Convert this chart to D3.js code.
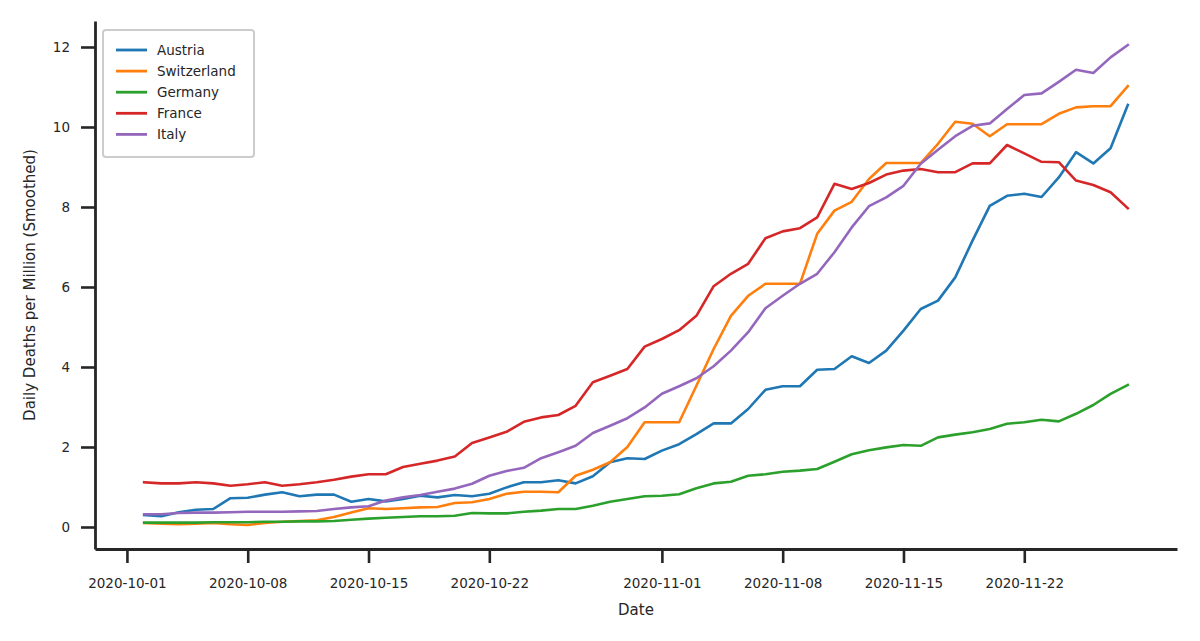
<!DOCTYPE html>
<html>
<head>
<meta charset="utf-8">
<script src="https://cdn.jsdelivr.net/npm/d3@7"></script>
<style>
  body { margin: 0; background: #fff; }
  svg { font-family: "DejaVu Sans", sans-serif; }
</style>
</head>
<body>
<div id="chart"></div>
<script>
// daily values, 2020-10-02 .. 2020-11-28
const firstDay = "2020-10-02";
const countries = ["Austria", "Switzerland", "Germany", "France", "Italy"];
const colors = ["#1f77b4", "#ff7f0e", "#2ca02c", "#d62728", "#9467bd"];

const austria = [0.30,0.27,0.37,0.43,0.45,0.72,0.73,0.81,0.87,0.77,0.81,0.81,0.63,0.70,
  0.64,0.70,0.78,0.74,0.80,0.77,0.83,0.99,1.12,1.12,1.17,1.09,1.27,1.62,1.72,
  1.70,1.91,2.07,2.32,2.59,2.59,2.95,3.43,3.52,3.52,3.93,3.95,4.27,4.10,
  4.41,4.91,5.45,5.66,6.24,7.16,8.03,8.28,8.33,8.25,8.74,9.37,9.09,9.47,10.55];
const switzerland = [0.10,0.08,0.07,0.08,0.10,0.07,0.05,0.10,0.13,0.15,0.17,0.25,0.36,0.47,
  0.45,0.47,0.49,0.50,0.60,0.62,0.70,0.83,0.88,0.88,0.87,1.28,1.43,1.62,2.00,
  2.62,2.62,2.62,3.53,4.45,5.28,5.78,6.08,6.08,6.08,7.33,7.91,8.13,8.70,
  9.10,9.10,9.10,9.58,10.13,10.08,9.77,10.07,10.07,10.07,10.33,10.49,10.52,10.52,11.02];
const germany = [0.11,0.11,0.11,0.11,0.12,0.12,0.12,0.13,0.13,0.14,0.14,0.15,0.18,0.21,
  0.23,0.25,0.27,0.27,0.28,0.35,0.34,0.34,0.38,0.41,0.45,0.45,0.53,0.63,0.70,
  0.77,0.78,0.82,0.97,1.09,1.13,1.28,1.32,1.38,1.41,1.45,1.63,1.82,1.92,
  1.99,2.05,2.03,2.24,2.31,2.37,2.45,2.58,2.62,2.68,2.64,2.83,3.05,3.33,3.55];
const france = [1.12,1.09,1.09,1.12,1.09,1.03,1.07,1.12,1.03,1.07,1.12,1.18,1.26,1.32,
  1.32,1.50,1.58,1.66,1.76,2.10,2.24,2.38,2.63,2.74,2.80,3.03,3.62,3.78,3.95,
  4.51,4.70,4.92,5.28,6.02,6.33,6.58,7.22,7.39,7.47,7.74,8.58,8.45,8.60,
  8.81,8.91,8.95,8.87,8.87,9.09,9.09,9.55,9.34,9.13,9.12,8.66,8.55,8.37,7.97];
const italy = [0.32,0.32,0.35,0.36,0.36,0.37,0.38,0.38,0.38,0.39,0.40,0.45,0.49,0.52,
  0.66,0.74,0.80,0.88,0.96,1.08,1.28,1.40,1.48,1.72,1.87,2.03,2.35,2.53,2.72,
  2.99,3.33,3.52,3.72,4.02,4.41,4.87,5.47,5.78,6.08,6.33,6.87,7.49,8.02,
  8.24,8.53,9.08,9.43,9.77,10.03,10.09,10.45,10.80,10.84,11.13,11.43,11.35,11.74,12.05];

const xTickLabels = ["2020-10-01", "2020-10-08", "2020-10-15", "2020-10-22",
  "2020-11-01", "2020-11-08", "2020-11-15", "2020-11-22"];
const yTicks = [0, 2, 4, 6, 8, 10, 12];

const parse = d3.utcParse("%Y-%m-%d");
const start = parse(firstDay);
const seriesValues = [austria, switzerland, germany, france, italy];
const series = countries.map((name, i) => ({
  name: name,
  color: colors[i],
  values: seriesValues[i].map((v, j) => ({ date: d3.utcDay.offset(start, j), value: v }))
}));

const W = 1200, H = 641;
const margin = {top: 21, right: 23, bottom: 92, left: 95};
const width = W - margin.left - margin.right,
      height = H - margin.top - margin.bottom;

const svg = d3.select("#chart").append("svg")
  .attr("width", W).attr("height", H);
const g = svg.append("g")
  .attr("transform", "translate(" + margin.left + "," + margin.top + ")");

// matplotlib style 5% padding on both axes
const allDates = series[0].values.map(d => d.date);
const t0 = +d3.min(allDates), t1 = +d3.max(allDates);
const padT = (t1 - t0) * 0.05;
const x = d3.scaleUtc()
  .domain([new Date(t0 - padT), new Date(t1 + padT)])
  .range([0, width]);

const allVals = seriesValues.flat();
const vMin = d3.min(allVals), vMax = d3.max(allVals);
const padV = (vMax - vMin) * 0.05;
const y = d3.scaleLinear()
  .domain([vMin - padV, vMax + padV])
  .range([height, 0]);

const ink = "#262626";

// x axis
const xAxis = g.append("g")
  .attr("transform", "translate(0," + height + ")")
  .call(d3.axisBottom(x)
    .tickValues(xTickLabels.map(parse))
    .tickFormat(d3.utcFormat("%Y-%m-%d"))
    .tickSize(14).tickSizeOuter(0).tickPadding(15));

// y axis
const yAxis = g.append("g")
  .call(d3.axisLeft(y)
    .tickValues(yTicks)
    .tickFormat(d3.format("d"))
    .tickSize(14).tickSizeOuter(0).tickPadding(11));

[xAxis, yAxis].forEach(ax => {
  ax.select(".domain").attr("stroke", ink).attr("stroke-width", 2.8);
  ax.selectAll(".tick line").attr("stroke", ink).attr("stroke-width", 2.6);
  ax.selectAll(".tick text")
    .attr("fill", ink)
    .style("font-size", "13.5px")
    .style("font-family", "DejaVu Sans");
});

// lines
const line = d3.line()
  .x(d => x(d.date))
  .y(d => y(d.value));

g.selectAll(".series")
  .data(series)
  .enter()
  .append("path")
    .attr("class", "series")
    .attr("d", d => line(d.values))
    .attr("fill", "none")
    .attr("stroke", d => d.color)
    .attr("stroke-width", 2.6)
    .attr("stroke-linejoin", "round")
    .attr("stroke-linecap", "square");

// axis titles
svg.append("text")
  .attr("x", margin.left + width / 2)
  .attr("y", 615)
  .attr("text-anchor", "middle")
  .attr("fill", ink)
  .style("font-size", "15px")
  .text("Date");

svg.append("text")
  .attr("transform", "translate(35," + (margin.top + height / 2) + ") rotate(-90)")
  .attr("text-anchor", "middle")
  .attr("fill", ink)
  .style("font-size", "15px")
  .text("Daily Deaths per Million (Smoothed)");

// legend
const legend = svg.append("g").attr("transform", "translate(103,30)");
legend.append("rect")
  .attr("x", 0).attr("y", 0)
  .attr("width", 151).attr("height", 127)
  .attr("rx", 3)
  .attr("fill", "#fff").attr("fill-opacity", 0.8)
  .attr("stroke", "#cccccc").attr("stroke-width", 2);

const rows = legend.selectAll(".row")
  .data(series)
  .enter()
  .append("g")
    .attr("class", "row")
    .attr("transform", (d, i) => "translate(0," + (20 + i * 21.1) + ")");
rows.append("line")
  .attr("x1", 13).attr("x2", 44)
  .attr("stroke", d => d.color)
  .attr("stroke-width", 2.8);
rows.append("text")
  .attr("x", 54)
  .attr("dy", "0.35em")
  .attr("fill", ink)
  .style("font-size", "13.5px")
  .text(d => d.name);
</script>
</body>
</html>
